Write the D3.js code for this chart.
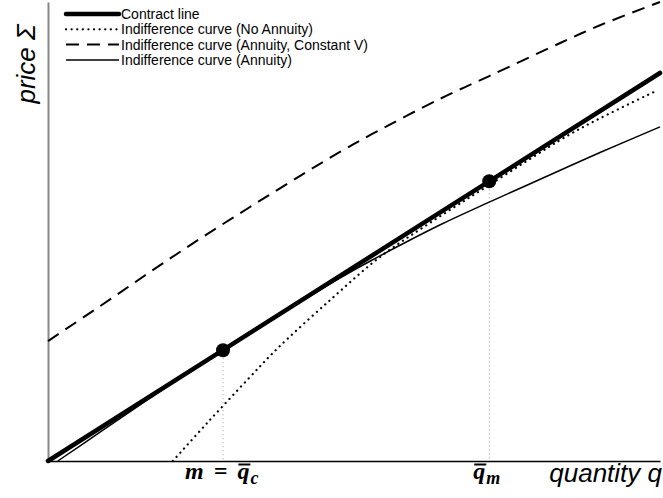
<!DOCTYPE html>
<meta charset="utf-8">
<head>
    <title>Contract line and indifference curves</title>
    <script type="text/javascript" src="https://cdn.jsdelivr.net/npm/d3@7"></script>
    <style>
        body { margin: 0; padding: 0; background: white; }
        text { font-family: "Liberation Sans", Arial, sans-serif; }
    </style>
</head>
<body>
<script>
    // values (q = quantity, p = price)
    const contractQ = [0, 10];
    const contractP = [0, 6.34];

    const pointQ = [2.86, 7.21];
    const pointP = [1.81, 4.57];

    const noAnnuityQ = [2.04, 2.60, 3.27, 3.76, 4.61, 5.42, 6.24, 7.21, 8.48, 9.02, 9.90];
    const noAnnuityP = [0, 0.62, 1.34, 1.85, 2.63, 3.33, 3.89, 4.51, 5.31, 5.60, 6.03];

    const annuityQ = [0.16, 0.85, 1.67, 2.48, 3.30, 4.12, 4.77, 5.29, 6.41, 7.21, 8.37, 9.02, 10.0];
    const annuityP = [0, 0.47, 1.03, 1.57, 2.09, 2.60, 2.99, 3.28, 3.86, 4.23, 4.75, 5.04, 5.46];

    const constVQ = [0, 0.85, 1.67, 2.48, 3.30, 4.12, 4.77, 5.29, 6.41, 7.21, 8.37, 9.02, 10.0];
    const constVP = [1.96, 2.53, 3.09, 3.63, 4.15, 4.66, 5.05, 5.34, 5.92, 6.29, 6.83, 7.12, 7.50];

    const legendLabels = [
        "Contract line",
        "Indifference curve (No Annuity)",
        "Indifference curve (Annuity, Constant V)",
        "Indifference curve (Annuity)"
    ];

    const width = 663, height = 498;
    const svg = d3.select("body").append("svg")
        .attr("width", width)
        .attr("height", height);

    const x = d3.scaleLinear().domain([0, 10]).range([48, 660]);
    const y = d3.scaleLinear().domain([0, 7.5]).range([461, 2]);

    const zip = (a, b) => a.map((v, i) => [v, b[i]]);
    const line = d3.line().x(d => x(d[0])).y(d => y(d[1])).curve(d3.curveCatmullRom.alpha(0.5));

    // axes, no ticks
    svg.append("g")
        .attr("transform", `translate(${x(0)},0)`)
        .call(d3.axisLeft(y).ticks(0).tickSizeOuter(0))
        .select(".domain").attr("stroke", "#888").attr("stroke-width", 2);
    svg.append("g")
        .attr("transform", `translate(0,${y(0)})`)
        .call(d3.axisBottom(x).ticks(0).tickSizeOuter(0))
        .select(".domain").attr("stroke", "#000").attr("stroke-width", 1.5);

    // guides from the points down to the axis
    svg.selectAll(".guide")
        .data(zip(pointQ, pointP))
        .enter().append("line")
        .attr("x1", d => x(d[0])).attr("x2", d => x(d[0]))
        .attr("y1", d => y(d[1])).attr("y2", y(0))
        .attr("stroke", "#999").attr("stroke-width", 1)
        .attr("stroke-dasharray", "1,3");

    const styles = [
        {w: 4.5, dash: null, cap: "round"},
        {w: 2.2, dash: "0.1,5.5", cap: "round"},
        {w: 2, dash: "13,8", cap: "butt"},
        {w: 1.5, dash: null, cap: "butt"}
    ];
    const series = [
        zip(contractQ, contractP),
        zip(noAnnuityQ, noAnnuityP),
        zip(constVQ, constVP),
        zip(annuityQ, annuityP)
    ];

    // draw the thin ones first, contract line on top
    [1, 2, 3, 0].forEach(i => {
        svg.append("path")
            .datum(series[i])
            .attr("d", line)
            .attr("fill", "none")
            .attr("stroke", "#000")
            .attr("stroke-width", styles[i].w)
            .attr("stroke-linecap", styles[i].cap)
            .attr("stroke-dasharray", styles[i].dash);
    });

    svg.selectAll(".pt")
        .data(zip(pointQ, pointP))
        .enter().append("circle")
        .attr("cx", d => x(d[0])).attr("cy", d => y(d[1]))
        .attr("r", 7).attr("fill", "#000");

    // legend
    const legend = svg.append("g").attr("transform", "translate(66,14)");
    legendLabels.forEach((label, i) => {
        const row = legend.append("g").attr("transform", `translate(0,${i * 15.3})`);
        row.append("line")
            .attr("x1", 0).attr("x2", 53).attr("y1", 0).attr("y2", 0)
            .attr("stroke", "#000")
            .attr("stroke-width", styles[i].w)
            .attr("stroke-linecap", styles[i].cap)
            .attr("stroke-dasharray", styles[i].dash);
        row.append("text")
            .attr("x", 55).attr("y", 5)
            .attr("font-size", 14)
            .text(label);
    });

    // axis titles
    svg.append("text")
        .attr("transform", "translate(35,64) rotate(-90)")
        .attr("text-anchor", "middle")
        .attr("font-size", 26).attr("font-style", "italic")
        .text("price Σ");
    svg.append("text")
        .attr("x", 662).attr("y", 482)
        .attr("text-anchor", "end")
        .attr("font-size", 26).attr("font-style", "italic")
        .text("quantity q");

    // point labels: q with a bar over it, plus subscript
    function mathLabel(x0, before, sub) {
        const t = svg.append("text")
            .attr("x", x0).attr("y", 479)
            .attr("font-size", 24)
            .attr("font-style", "italic").attr("font-weight", "bold")
            .style("font-family", "'Liberation Serif', serif")
            .style("word-spacing", "4px");
        t.append("tspan").text(before);
        const q = t.append("tspan").text("q");
        t.append("tspan").attr("dx", 1).attr("dy", 5).attr("font-size", 18).text(sub);
        const qx = q.node().getStartPositionOfChar(0).x;
        const qw = q.node().getComputedTextLength();
        svg.append("line")
            .attr("x1", qx + 1).attr("x2", qx + qw + 1)
            .attr("y1", 464.5).attr("y2", 464.5)
            .attr("stroke", "#000").attr("stroke-width", 2);
    }
    mathLabel(x(pointQ[0]) - 38, "m = ", "c");
    mathLabel(x(pointQ[1]) - 16, "", "m");
</script>
</body>
</html>
